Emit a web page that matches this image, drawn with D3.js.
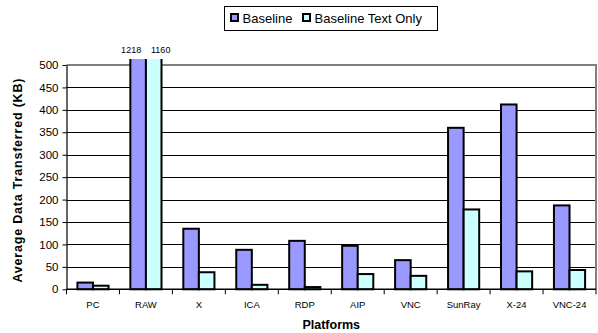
<!DOCTYPE html>
<html>
<head>
<meta charset="utf-8">
<script src="https://cdn.jsdelivr.net/npm/d3@7"></script>
<style>
  html, body { margin: 0; padding: 0; background: #fff; }
  svg { display: block; font-family: "Liberation Sans", Arial, sans-serif; }
</style>
</head>
<body>
<svg id="chart" width="598" height="333"></svg>
<script>
// Platforms along the x axis
const categories = ["PC", "RAW", "X", "ICA", "RDP", "AIP", "VNC", "SunRay", "X-24", "VNC-24"];
// Average data transferred (KB) per platform
const baseline = [15, 1218, 135, 88, 108, 97, 65, 360, 412, 187];
const textOnly = [8, 1160, 38, 10, 5, 34, 30, 178, 40, 43];
const seriesNames = ["Baseline", "Baseline Text Only"];
const seriesColors = ["#9999FF", "#CCFFFF"];
const yTicks = [0, 50, 100, 150, 200, 250, 300, 350, 400, 450, 500];

const svg = d3.select("#chart");
const plotL = 66.5, plotR = 596, plotT = 65, plotB = 289.3;

const x = d3.scaleBand().domain(categories).range([plotL, plotR]).paddingInner(0).paddingOuter(0);
const xs = d3.scaleBand().domain(seriesNames).range([0, x.bandwidth()]).paddingInner(0).paddingOuter(0.7);
const y = d3.scaleLinear().domain([0, 500]).range([plotB, plotT]);

// values above the axis maximum run slightly past the plot top and are cut there
const overflowTop = plotT - 6;
svg.append("defs").append("clipPath").attr("id", "barclip")
  .append("rect").attr("x", 0).attr("y", overflowTop).attr("width", 598).attr("height", 333);

// gridlines
svg.append("g")
  .selectAll("line")
  .data(yTicks.filter(t => t > 0 && t < 500))
  .join("line")
  .attr("x1", plotL).attr("x2", plotR)
  .attr("y1", d => Math.round(y(d)) + 0.5).attr("y2", d => Math.round(y(d)) + 0.5)
  .attr("stroke", "#000").attr("stroke-width", 1);

// plot frame (top and right)
svg.append("path")
  .attr("d", `M${plotL},${plotT} H${plotR} V${plotB}`)
  .attr("fill", "none").attr("stroke", "#808080").attr("stroke-width", 2);

// bars
const rows = categories.map((c, i) => ({ c, vals: [baseline[i], textOnly[i]] }));
const groups = svg.append("g").attr("clip-path", "url(#barclip)").selectAll("g")
  .data(rows).join("g")
  .attr("transform", d => `translate(${x(d.c)},0)`);

groups.selectAll("rect")
  .data(d => d.vals.map((v, k) => ({ v, k })))
  .join("rect")
  .attr("x", d => xs(seriesNames[d.k]))
  .attr("width", xs.bandwidth())
  .attr("y", d => d.v > 500 ? overflowTop - 5 : y(d.v))
  .attr("height", d => plotB - (d.v > 500 ? overflowTop - 5 : y(d.v)))
  .attr("fill", d => seriesColors[d.k])
  .attr("stroke", "#000").attr("stroke-width", 2);

// value labels on bars that exceed the axis
const labels = svg.append("g").selectAll("g")
  .data(rows).join("g")
  .attr("transform", d => `translate(${x(d.c)},0)`);
labels.selectAll("text")
  .data(d => d.vals.map((v, k) => ({ v, k })).filter(e => e.v > 500))
  .join("text")
  .attr("x", d => xs(seriesNames[d.k]) + xs.bandwidth() / 2 + (d.k === 0 ? -7 : 7))
  .attr("y", overflowTop - 6)
  .attr("text-anchor", "middle")
  .attr("font-size", 9)
  .text(d => d.v);

// y axis
const yAxis = d3.axisLeft(y).tickValues(yTicks).tickSize(4).tickPadding(4).tickSizeOuter(0);
const gy = svg.append("g").attr("transform", `translate(${plotL},0)`).call(yAxis);
gy.select(".domain").attr("stroke", "#000").attr("stroke-width", 1.2);
gy.selectAll(".tick line").attr("stroke", "#000");
gy.selectAll(".tick text").attr("font-size", 11.5).attr("fill", "#000")
  .attr("font-family", "Liberation Sans, Arial, sans-serif");

// x axis with ticks at category boundaries
const gx = svg.append("g").attr("transform", `translate(0,${plotB})`);
gx.append("line").attr("x1", plotL).attr("x2", plotR).attr("stroke", "#000").attr("stroke-width", 1.5);
gx.selectAll("line.tk")
  .data(categories.map(c => x(c)).concat([plotR]))
  .join("line").attr("class", "tk")
  .attr("x1", d => d).attr("x2", d => d).attr("y1", 0).attr("y2", 5)
  .attr("stroke", "#000");
gx.selectAll("text")
  .data(categories)
  .join("text")
  .attr("x", d => x(d) + x.bandwidth() / 2)
  .attr("y", 19)
  .attr("text-anchor", "middle")
  .attr("font-size", 9.5)
  .text(d => d);

// axis titles
svg.append("text")
  .attr("x", (plotL + plotR) / 2).attr("y", 329)
  .attr("text-anchor", "middle").attr("font-size", 12.5).attr("font-weight", "bold")
  .text("Platforms");
svg.append("text")
  .attr("transform", `translate(22,${(plotT + plotB) / 2 + 3}) rotate(-90)`)
  .attr("text-anchor", "middle").attr("font-size", 12.5).attr("font-weight", "bold")
  .attr("letter-spacing", 0.8)
  .text("Average Data Transferred (KB)");

// legend
const lg = svg.append("g");
lg.append("rect").attr("x", 224.5).attr("y", 6.5).attr("width", 213).attr("height", 24)
  .attr("fill", "#fff").attr("stroke", "#000").attr("stroke-width", 1);
const items = [{ x: 230, tx: 242.5 }, { x: 302, tx: 314.5 }];
items.forEach((it, k) => {
  lg.append("rect").attr("x", it.x + 1).attr("y", 14).attr("width", 7).attr("height", 7)
    .attr("fill", seriesColors[k]).attr("stroke", "#000").attr("stroke-width", 2);
  lg.append("text").attr("x", it.tx).attr("y", 23).attr("font-size", 13).text(seriesNames[k]);
});
</script>
</body>
</html>
